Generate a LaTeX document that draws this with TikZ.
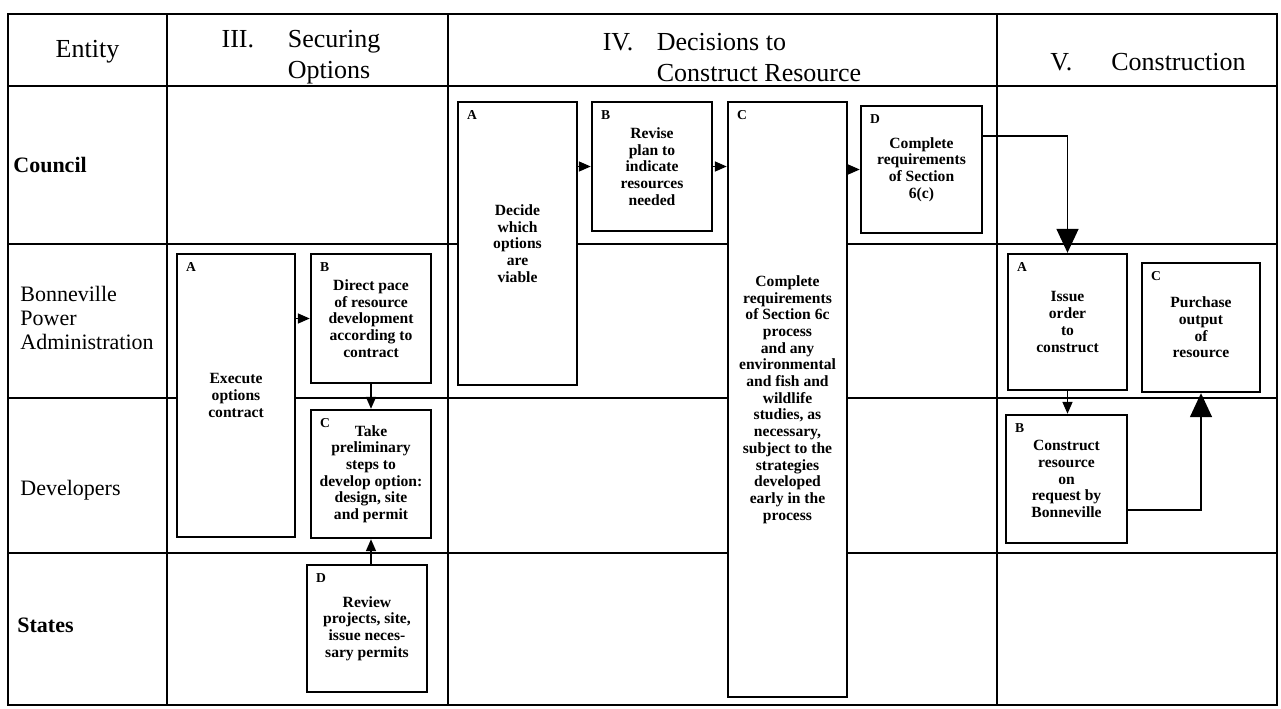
\documentclass[tikz,border=0pt]{standalone}
\usepackage{fontspec}
\setmainfont{Liberation Serif}
\usetikzlibrary{arrows.meta}
\tikzset{
  frame/.style={line width=1.4pt},
  stepbox/.style={draw, fill=white, line width=1.2pt, inner sep=1pt, align=center,
    font=\fontsize{7.8}{8.35}\selectfont\bfseries},
  tag/.style={anchor=north west, inner xsep=5pt, inner ysep=4.5pt, font=\fontsize{6.8}{7}\selectfont\bfseries},
  flow/.style={line width=0.8pt, -{Triangle[length=6pt,width=5pt]}},
  bigflow/.style={line width=0.8pt, -{Triangle[length=12pt,width=11pt]}},
  lane/.style={anchor=west, align=left, inner sep=0pt, font=\fontsize{11}{11.8}\selectfont},
  head/.style={font=\fontsize{13}{15.5}\selectfont}
}
\begin{document}
\begin{tikzpicture}[x=0.5pt,y=-0.5pt]
\useasboundingbox (0,0) rectangle (1281,708);
\draw[frame] (8,14) rectangle (1277,705);
\draw[frame] (8,86) -- (1277,86);
\draw[frame] (167,14) -- (167,705);
\draw[frame] (448,14) -- (448,705);
\draw[frame] (997,14) -- (997,705);
\draw[frame] (8,244) -- (1277,244);
\draw[frame] (8,398) -- (1277,398);
\draw[frame] (8,553) -- (1277,553);

\node[head] (hent) at (87.5,52) {Entity};
\node[head] (hsec) at (301,57) {\begin{tabular}{@{}l@{\hspace{1.3em}}l@{}}III. & Securing\\ & Options\end{tabular}};
\node[head] (hdec) at (732,60) {\begin{tabular}{@{}l@{\hspace{0.9em}}l@{}}IV. & Decisions to\\ & Construct Resource\end{tabular}};
\node[head] (hcon) at (1148,62) {V.\hspace{1.5em}Construction};

\node[lane, font=\fontsize{11}{11.8}\selectfont\bfseries] (council) at (13,165) {Council};
\node[lane] (bpa) at (20,318) {Bonneville\\Power\\Administration};
\node[lane] (dev) at (20,490) {Developers};
\node[lane, font=\fontsize{11}{11.8}\selectfont\bfseries] (states) at (17,625) {States};

\node[stepbox, minimum width=59pt, minimum height=141.5pt] (A3) at (236,395.5) {Execute\\options\\contract};
\node[stepbox, minimum width=60pt, minimum height=64.5pt] (B3) at (371,318.5) {Direct pace\\of resource\\development\\according to\\contract};
\node[stepbox, minimum width=60pt, minimum height=64pt] (C3) at (371,474) {Take\\preliminary\\steps to\\develop option:\\design, site\\and permit};
\node[stepbox, minimum width=60pt, minimum height=63.5pt] (D3) at (367,628.5) {Review\\projects, site,\\issue neces-\\sary permits};

\node[stepbox, minimum width=59.5pt, minimum height=141.5pt] (A4) at (517.5,243.5) {Decide\\which\\options\\are\\viable};
\node[stepbox, minimum width=60pt, minimum height=64.5pt] (B4) at (652,166.5) {Revise\\plan to\\indicate\\resources\\needed};
\node[stepbox, minimum width=59.5pt, minimum height=297.5pt] (C4) at (787.5,399.5) {Complete\\requirements\\of Section 6c\\process\\and any\\environmental\\and fish and\\wildlife\\studies, as\\necessary,\\subject to the\\strategies\\developed\\early in the\\process};
\node[stepbox, minimum width=60.5pt, minimum height=63.5pt] (D4) at (921.5,169.5) {Complete\\requirements\\of Section\\6(c)};

\node[stepbox, minimum width=59.5pt, minimum height=68pt] (A5) at (1067.5,322) {Issue\\order\\to\\construct};
\node[stepbox, minimum width=60.5pt, minimum height=64pt] (B5) at (1066.5,479) {Construct\\resource\\on\\request by\\Bonneville};
\node[stepbox, minimum width=59pt, minimum height=64.5pt] (C5) at (1201,327.5) {Purchase\\output\\of\\resource};

\node[tag] (tA3) at (A3.north west) {A};
\node[tag] (tB3) at (B3.north west) {B};
\node[tag] (tC3) at (C3.north west) {C};
\node[tag] (tD3) at (D3.north west) {D};
\node[tag] (tA4) at (A4.north west) {A};
\node[tag] (tB4) at (B4.north west) {B};
\node[tag] (tC4) at (C4.north west) {C};
\node[tag] (tD4) at (D4.north west) {D};
\node[tag] (tA5) at (A5.north west) {A};
\node[tag] (tB5) at (B5.north west) {B};
\node[tag] (tC5) at (C5.north west) {C};

\draw[flow] (A3.east |- B3.west) -- (B3.west);
\draw[flow] (B3.south) -- (C3.north);
\draw[flow] (C3.south |- D3.north) -- (C3.south);
\draw[flow] (A4.east |- B4.west) -- (B4.west);
\draw[flow] (B4.east) -- (B4.east -| C4.west);
\draw[flow] (C4.east |- D4.west) -- (D4.west);
\draw[bigflow] ([yshift=-15.5pt]D4.north east) -| (A5.north);
\draw[flow] (A5.south) -- (A5.south |- B5.north);
\draw[bigflow] ([yshift=-15.5pt]B5.east) -| (C5.south);
\end{tikzpicture}
\end{document}
